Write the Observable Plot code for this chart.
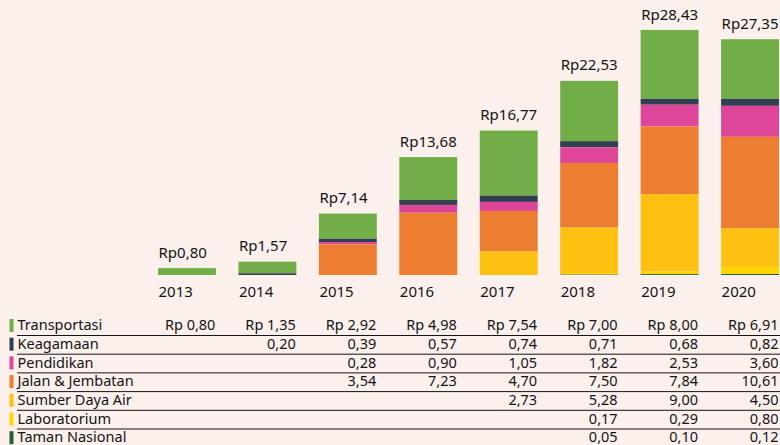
<!DOCTYPE html>
<html>
<head>
<meta charset="utf-8">
<script src="https://cdn.jsdelivr.net/npm/d3@7"></script>
<script src="https://cdn.jsdelivr.net/npm/@observablehq/plot@0.6"></script>
<style>
  html, body { margin: 0; padding: 0; background: #fbf0ec; }
  #chart { width: 780px; }
  #chart svg { display: block; }
</style>
</head>
<body>
<div id="chart"></div>
<script>
const years = ["2013", "2014", "2015", "2016", "2017", "2018", "2019", "2020"];
const seriesNames = ["Transportasi", "Keagamaan", "Pendidikan", "Jalan & Jembatan", "Sumber Daya Air", "Laboratorium", "Taman Nasional"];
const seriesColors = ["#72ae48", "#323f50", "#de4799", "#ed7d31", "#fec111", "#ffd602", "#2a5f36"];
const transportasi = [0.80, 1.35, 2.92, 4.98, 7.54, 7.00, 8.00, 6.91];
const keagamaan = [null, 0.20, 0.39, 0.57, 0.74, 0.71, 0.68, 0.82];
const pendidikan = [null, null, 0.28, 0.90, 1.05, 1.82, 2.53, 3.60];
const jalanJembatan = [null, null, 3.54, 7.23, 4.70, 7.50, 7.84, 10.61];
const sumberDayaAir = [null, null, null, null, 2.73, 5.28, 9.00, 4.50];
const laboratorium = [null, null, null, null, null, 0.17, 0.29, 0.80];
const tamanNasional = [null, null, null, null, null, 0.05, 0.10, 0.12];
const totals = [0.80, 1.57, 7.14, 13.68, 16.77, 22.53, 28.43, 27.35];

const seriesValues = [transportasi, keagamaan, pendidikan, jalanJembatan, sumberDayaAir, laboratorium, tamanNasional];

const rows = [];
seriesNames.forEach((name, si) => {
  seriesValues[si].forEach((v, yi) => {
    if (v != null) rows.push({series: name, year: years[yi], value: v, first: si === 0});
  });
});

const fmt = (v) => d3.format(".2f")(v).replace(".", ",");
const font = "'Noto Sans', sans-serif";
const ink = "#141414";

const xScale = {type: "band", domain: years, range: [158, 779], paddingInner: 0.28, paddingOuter: 0, align: 0.5, round: false};
const colorScale = {domain: seriesNames, range: seriesColors};
const half = (621 / (8 - 0.28)) * 0.72 / 2;

const bars = Plot.plot({
  width: 780,
  height: 305,
  marginTop: 30,
  marginBottom: 30,
  marginLeft: 0,
  marginRight: 0,
  style: {background: "transparent", fontFamily: font, color: ink},
  x: {...xScale, label: null},
  y: {domain: [0, d3.max(totals)], axis: null},
  color: colorScale,
  marks: [
    Plot.barY(rows, {x: "year", y: "value", fill: "series", order: [...seriesNames].reverse()}),
    Plot.text(years, {x: (d) => d, y: (d, i) => totals[i], text: (d, i) => "Rp" + fmt(totals[i]), lineAnchor: "bottom", textAnchor: "start", dx: -half, dy: -11, fontSize: 15, fill: ink}),
    Plot.axisX({tickSize: 0, tickPadding: 11, fontSize: 15, fill: ink, label: null, textAnchor: "start", dx: -half})
  ]
});

const swatch = {draw(context) { context.rect(-2, -6.5, 4, 13); }};
const step = 18.7;

const table = Plot.plot({
  width: 780,
  height: 140,
  marginTop: 0,
  marginBottom: 0,
  marginLeft: 17,
  marginRight: 0,
  style: {background: "transparent", fontFamily: font, color: ink},
  x: {...xScale, axis: null},
  y: {type: "band", domain: seriesNames, range: [20 - step / 2, 20 - step / 2 + step * seriesNames.length], padding: 0, round: false, axis: null},
  color: colorScale,
  marks: [
    Plot.ruleY(seriesNames.slice(0, 6), {y: (d) => d, dy: 10, stroke: ink, strokeWidth: 1}),
    Plot.dot(seriesNames, {y: (d) => d, frameAnchor: "left", dx: -6, symbol: swatch, fill: (d) => d, r: 3}),
    Plot.text(seriesNames, {y: (d) => d, text: (d) => d, frameAnchor: "left", textAnchor: "start", fontSize: 14.5, fill: ink}),
    Plot.text(rows, {x: "year", y: "series", text: (d) => (d.first ? "Rp " : "") + fmt(d.value), textAnchor: "end", dx: half - 1, fontSize: 14.5, fill: ink})
  ]
});

document.getElementById("chart").append(bars, table);
</script>
</body>
</html>
